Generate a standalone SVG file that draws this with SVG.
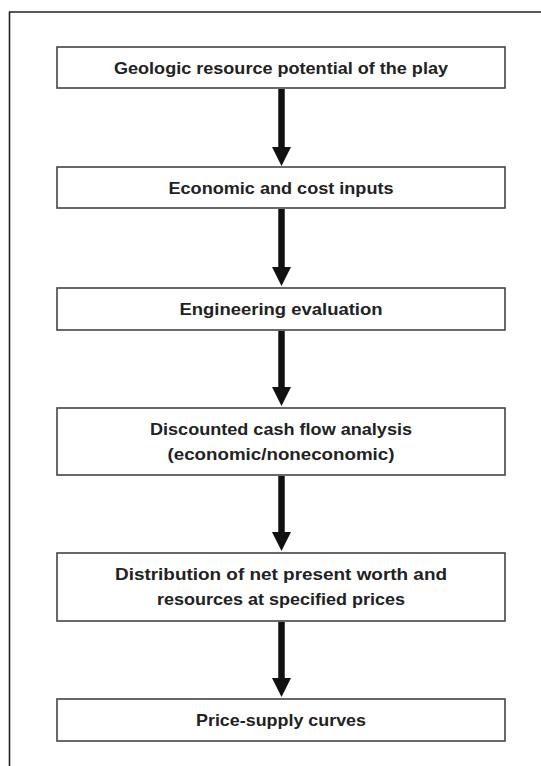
<svg xmlns="http://www.w3.org/2000/svg" width="541" height="766" viewBox="0 0 541 766">
<style>
.frame{fill:none;stroke:#222;stroke-width:1.6}
.box{fill:#fff;stroke:#444;stroke-width:1.6}
.lbl{font-family:"Liberation Sans",Arial,sans-serif;font-weight:bold;font-size:16.5px;fill:#222;text-anchor:middle}
.shaft{stroke:#111;stroke-width:6.5;fill:none}
.head{fill:#111}
</style>
<rect width="541" height="766" fill="#fff"/>
<path class="frame" d="M9.5,766 V12 H541"/>
<g id="connectors">
<line class="shaft" x1="281.5" y1="89" x2="281.5" y2="150"/>
<polygon class="head" points="272,147 291,147 281.5,166"/>
<line class="shaft" x1="281.5" y1="209" x2="281.5" y2="270"/>
<polygon class="head" points="272,267 291,267 281.5,286"/>
<line class="shaft" x1="281.5" y1="331" x2="281.5" y2="390"/>
<polygon class="head" points="272,387 291,387 281.5,406"/>
<line class="shaft" x1="281.5" y1="476" x2="281.5" y2="535"/>
<polygon class="head" points="272,532 291,532 281.5,551"/>
<line class="shaft" x1="281.5" y1="622" x2="281.5" y2="681"/>
<polygon class="head" points="272,678 291,678 281.5,697"/>
</g>
<g id="n1">
<rect class="box" x="57" y="47" width="448" height="41"/>
<text class="lbl" x="281" y="74" textLength="334" lengthAdjust="spacingAndGlyphs">Geologic resource potential of the play</text>
</g>
<g id="n2">
<rect class="box" x="57" y="167" width="448" height="41"/>
<text class="lbl" x="281" y="193.5" textLength="225" lengthAdjust="spacingAndGlyphs">Economic and cost inputs</text>
</g>
<g id="n3">
<rect class="box" x="57" y="288" width="448" height="42"/>
<text class="lbl" x="281" y="314.5" textLength="203" lengthAdjust="spacingAndGlyphs">Engineering evaluation</text>
</g>
<g id="n4">
<rect class="box" x="57" y="408" width="448" height="67"/>
<text class="lbl" x="281" y="435" textLength="262" lengthAdjust="spacingAndGlyphs">Discounted cash flow analysis</text>
<text class="lbl" x="281" y="459.5" textLength="227" lengthAdjust="spacingAndGlyphs">(economic/noneconomic)</text>
</g>
<g id="n5">
<rect class="box" x="57" y="553" width="448" height="68"/>
<text class="lbl" x="281" y="580" textLength="332" lengthAdjust="spacingAndGlyphs">Distribution of net present worth and</text>
<text class="lbl" x="281" y="605" textLength="248" lengthAdjust="spacingAndGlyphs">resources at specified prices</text>
</g>
<g id="n6">
<rect class="box" x="57" y="699" width="448" height="42"/>
<text class="lbl" x="281" y="726" textLength="170" lengthAdjust="spacingAndGlyphs">Price-supply curves</text>
</g>
</svg>
